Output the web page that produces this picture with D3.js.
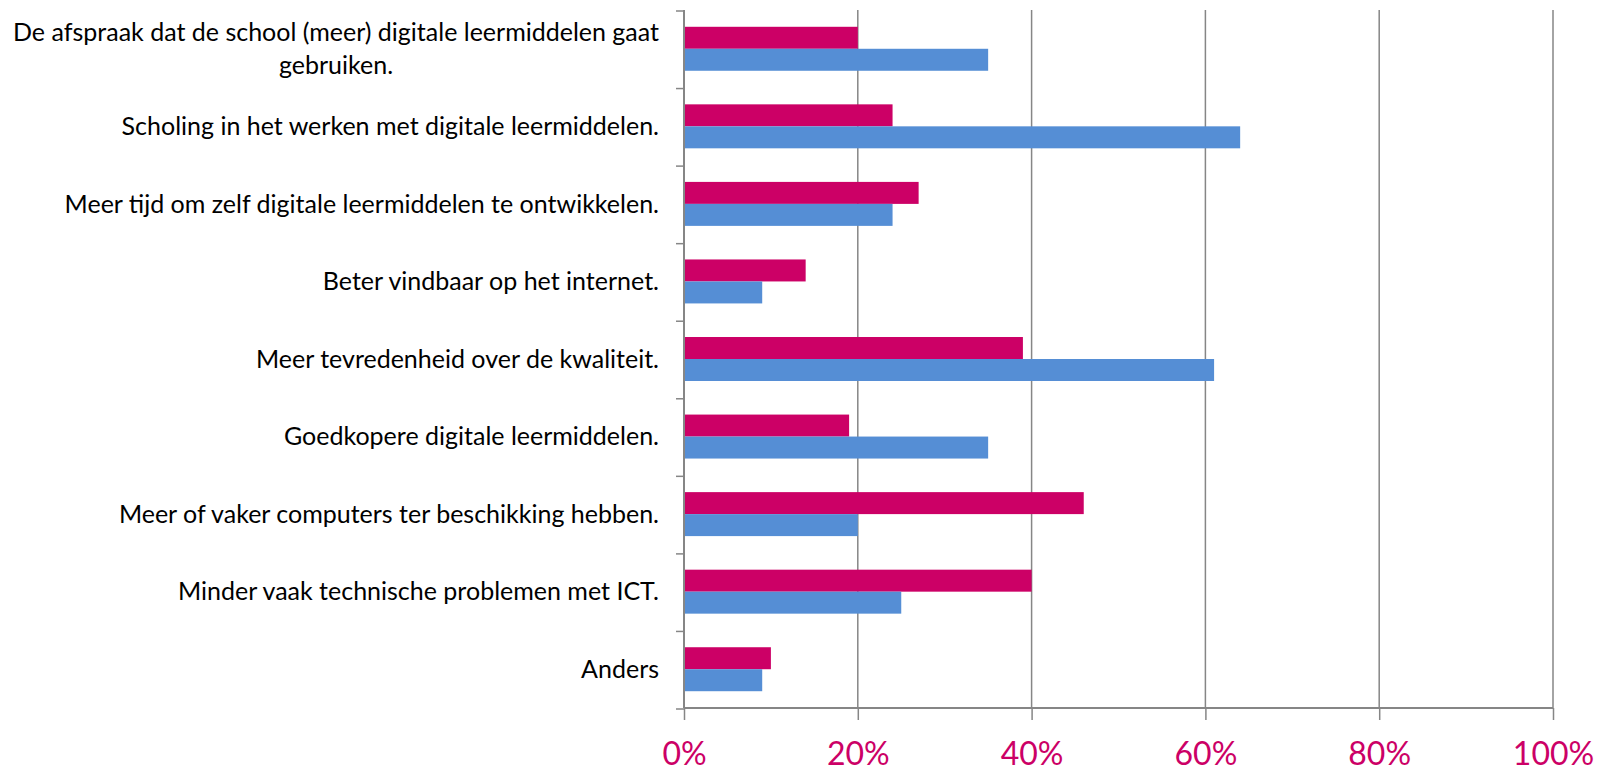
<!DOCTYPE html>
<html>
<head>
<meta charset="utf-8">
<script src="https://cdn.jsdelivr.net/npm/d3@7"></script>
<style>
	html, body { margin: 0; padding: 0; background: #fff; }
	svg { display: block; font-family: Lato, "Open Sans", sans-serif; }
</style>
</head>
<body>
<div id="chart"></div>
<script>
// categories, top to bottom (a "|" marks a line break in the label)
var categories = [
	"De afspraak dat de school (meer) digitale leermiddelen gaat|gebruiken.",
	"Scholing in het werken met digitale leermiddelen.",
	"Meer tijd om zelf digitale leermiddelen te ontwikkelen.",
	"Beter vindbaar op het internet.",
	"Meer tevredenheid over de kwaliteit.",
	"Goedkopere digitale leermiddelen.",
	"Meer of vaker computers ter beschikking hebben.",
	"Minder vaak technische problemen met ICT.",
	"Anders"
];

// percentages
var pinkValues = [20, 24, 27, 14, 39, 19, 46, 40, 10];
var blueValues = [35, 64, 24, 9, 61, 35, 20, 25, 9];

var series = ["pink", "blue"];
var tickValues = [0, 20, 40, 60, 80, 100];

(function () {

	var width = 1598,
		height = 771;

	var left = 684, right = 1553,
		top = 10, bottom = 708;

	var colors = { pink: '#cc0066', blue: '#558ed5' };
	var gridColor = '#868686';

	var data = categories.map(function (c, i) {
		return { cat: c, pink: pinkValues[i], blue: blueValues[i] };
	});

	var svg = d3.select('#chart').append('svg')
		.attr('width', width)
		.attr('height', height);

	var xScale = d3.scaleLinear()
		.domain([0, 100])
		.range([left, right]);

	var yScale = d3.scaleBand()
		.domain(categories)
		.range([top, bottom])
		.paddingInner(0.433)
		.paddingOuter(0.2165);

	var ySub = d3.scaleBand()
		.domain(series)
		.range([0, yScale.bandwidth()]);

	// vertical gridlines
	svg.append('g')
		.selectAll('line').data(tickValues.slice(1))
		.enter().append('line')
		.attr('x1', function (d) { return xScale(d); })
		.attr('x2', function (d) { return xScale(d); })
		.attr('y1', top)
		.attr('y2', bottom)
		.style('stroke', gridColor)
		.style('stroke-width', 1.5);

	// bars
	var groups = svg.append('g')
		.selectAll('g').data(data)
		.enter().append('g')
		.attr('transform', function (d) { return 'translate(0,' + yScale(d.cat) + ')'; });

	groups.selectAll('rect')
		.data(function (d) {
			return series.map(function (s) { return { key: s, value: d[s] }; });
		})
		.enter().append('rect')
		.attr('x', xScale(0))
		.attr('y', function (d) { return ySub(d.key); })
		.attr('width', function (d) { return xScale(d.value) - xScale(0); })
		.attr('height', ySub.bandwidth())
		.style('fill', function (d) { return colors[d.key]; });

	// left axis line and category separator ticks
	var step = (bottom - top) / categories.length;
	svg.append('line')
		.attr('x1', left).attr('x2', left)
		.attr('y1', top).attr('y2', bottom)
		.style('stroke', gridColor).style('stroke-width', 2);

	svg.append('g')
		.selectAll('line').data(d3.range(categories.length + 1))
		.enter().append('line')
		.attr('x1', left - 8).attr('x2', left)
		.attr('y1', function (i) { return top + 1 + i * step; })
		.attr('y2', function (i) { return top + 1 + i * step; })
		.style('stroke', gridColor).style('stroke-width', 1.5);

	// bottom axis
	var xAxis = d3.axisBottom(xScale)
		.tickValues(tickValues)
		.tickSize(12)
		.tickPadding(22)
		.tickFormat(function (d) { return d + '%'; });

	var gx = svg.append('g')
		.attr('transform', 'translate(0,' + bottom + ')')
		.call(xAxis);

	gx.select('.domain')
		.attr('d', 'M' + left + ',0H' + right)
		.style('stroke', gridColor).style('stroke-width', 2);
	gx.selectAll('.tick line').style('stroke', gridColor).style('stroke-width', 1.5);
	gx.selectAll('.tick text')
		.style('fill', '#cc0066')
		.style('font-family', 'Lato, "Open Sans", sans-serif')
		.style('font-size', '32px');

	// category labels
	var labelRight = 659, lineGap = 33;
	var labels = svg.append('g')
		.style('font-size', '25px')
		.style('fill', '#000');

	data.forEach(function (d) {
		var lines = d.cat.split('|');
		var cy = yScale(d.cat) + yScale.bandwidth() / 2;
		if (lines.length === 1) {
			labels.append('text')
				.attr('x', labelRight)
				.attr('y', cy)
				.attr('dy', '0.35em')
				.attr('text-anchor', 'end')
				.text(lines[0]);
		} else {
			var t = labels.append('text')
				.attr('text-anchor', 'middle');
			var first = t.append('tspan').text(lines[0]);
			var w = first.node().getComputedTextLength();
			var cx = labelRight - w / 2;
			lines.forEach(function (ln, j) {
				var ts = j === 0 ? first : t.append('tspan').text(ln);
				ts.attr('x', cx)
					.attr('y', cy + (j - (lines.length - 1) / 2) * lineGap)
					.attr('dy', '0.35em');
			});
		}
	});

})();
</script>
</body>
</html>
